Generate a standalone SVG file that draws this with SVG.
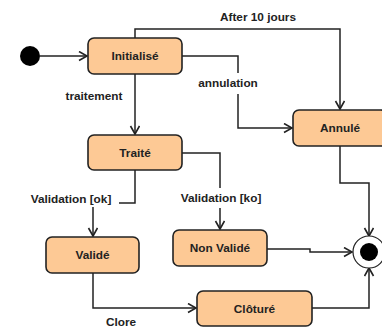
<svg xmlns="http://www.w3.org/2000/svg" width="382" height="328" viewBox="0 0 382 328">
<style>
.box{fill:#FDC995;stroke:#222;stroke-width:1.6}
.t{font-family:"Liberation Sans",Arial,sans-serif;font-size:11.8px;font-weight:bold;fill:#222;text-anchor:middle;dominant-baseline:central}
.c{fill:none;stroke:#222;stroke-width:1.5}
.bg{fill:#fff}
</style>
<defs>
<marker id="a" markerUnits="userSpaceOnUse" markerWidth="12" markerHeight="12" refX="9" refY="5" orient="auto">
<path d="M1,0.5 L9,5 L1,9.5" fill="none" stroke="#222" stroke-width="1.6"/>
</marker>
</defs>
<g id="connectors">
<path class="c" d="M40,56 H87" marker-end="url(#a)"/>
<path class="c" d="M135,38 V29 H340 V109" marker-end="url(#a)"/>
<path class="c" d="M182,56 H238 V128 H292" marker-end="url(#a)"/>
<path class="c" d="M135,74 V134" marker-end="url(#a)"/>
<path class="c" d="M135,170 V203 H93 V236" marker-end="url(#a)"/>
<path class="c" d="M182,153 H220 V229" marker-end="url(#a)"/>
<path class="c" d="M93,273 V308 H196" marker-end="url(#a)"/>
<path class="c" d="M267,249 H310 V252 H352" marker-end="url(#a)"/>
<path class="c" d="M340,146 V183 H369 V236" marker-end="url(#a)"/>
<path class="c" d="M312,308 H369 V268" marker-end="url(#a)"/>
<rect class="bg" x="196" y="73" width="65" height="21"/>
<rect class="bg" x="26" y="189" width="93" height="18"/>
<rect class="bg" x="178" y="188" width="86" height="20"/>
<text class="t" x="258" y="17">After 10 jours</text>
<text class="t" x="228" y="83">annulation</text>
<text class="t" x="94" y="96">traitement</text>
<text class="t" x="71" y="199">Validation [ok]</text>
<text class="t" x="221" y="198">Validation [ko]</text>
<text class="t" x="121" y="322">Clore</text>
</g>
<g id="initial"><circle cx="30" cy="56" r="10" fill="#000"/></g>
<g id="initialise"><rect class="box" x="88" y="38" width="94" height="36" rx="6"/><text class="t" x="135" y="56">Initialisé</text></g>
<g id="annule"><rect class="box" x="293" y="110" width="94" height="36" rx="6"/><text class="t" x="340" y="128">Annulé</text></g>
<g id="traite"><rect class="box" x="88" y="135" width="94" height="35" rx="6"/><text class="t" x="135" y="153">Traité</text></g>
<g id="valide"><rect class="box" x="46" y="237" width="93" height="36" rx="6"/><text class="t" x="92.5" y="255">Validé</text></g>
<g id="nonvalide"><rect class="box" x="173" y="230" width="94" height="36" rx="6"/><text class="t" x="220" y="248">Non Validé</text></g>
<g id="cloture"><rect class="box" x="197" y="291" width="115" height="35" rx="6"/><text class="t" x="254.5" y="308.5">Clôturé</text></g>
<g id="final"><circle cx="369" cy="252" r="16" fill="#fff" stroke="#222" stroke-width="1.2"/><circle cx="369" cy="252" r="9" fill="#000"/></g>
</svg>
